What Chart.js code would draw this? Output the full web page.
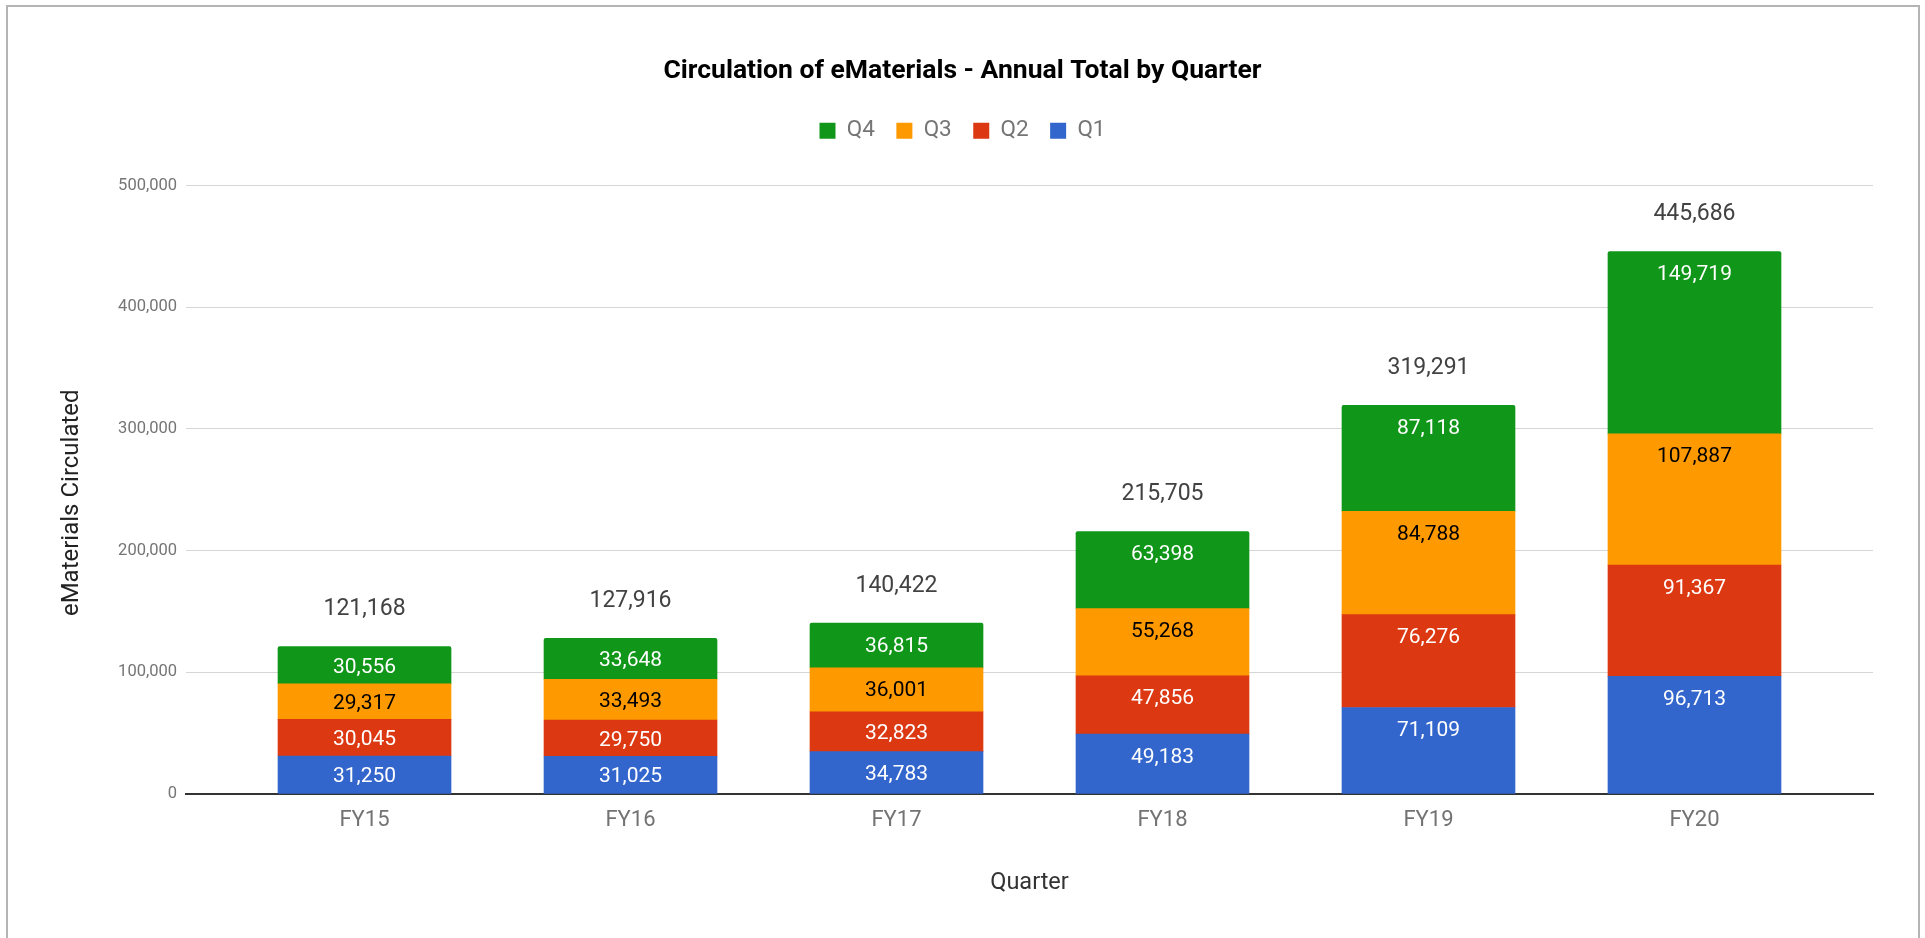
<!DOCTYPE html>
<html>
<head>
<meta charset="utf-8">
<script src="https://cdn.jsdelivr.net/npm/chart.js@4"></script>
<style>
  html, body { margin: 0; padding: 0; background: #ffffff; }
  #wrap { position: relative; width: 1925px; height: 938px; overflow: hidden; }
  #frame { position: absolute; left: 6px; top: 5px; width: 1914px; height: 960px;
           border: 2px solid #b4b4b4; box-sizing: border-box; pointer-events: none; }
  canvas { display: block; }
</style>
</head>
<body>
<div id="wrap">
  <canvas id="chart" width="1925" height="938"></canvas>
  <div id="frame"></div>
</div>
<script>
// ---- data ----
const categories = ['FY15', 'FY16', 'FY17', 'FY18', 'FY19', 'FY20'];
const q1 = [31250, 31025, 34783, 49183, 71109, 96713];
const q2 = [30045, 29750, 32823, 47856, 76276, 91367];
const q3 = [29317, 33493, 36001, 55268, 84788, 107887];
const q4 = [30556, 33648, 36815, 63398, 87118, 149719];
const totals = [121168, 127916, 140422, 215705, 319291, 445686];
const yTickValues = [0, 100000, 200000, 300000, 400000, 500000];
const seriesNames = ['Q1', 'Q2', 'Q3', 'Q4'];
const seriesColors = ['#3366cc', '#dc3912', '#ff9900', '#109618'];
const labelColors = ['#ffffff', '#ffffff', '#000000', '#ffffff'];

const fmt = v => Number(v).toLocaleString('en-US');
Chart.defaults.font.family = 'Roboto, "Noto Sans", sans-serif';

const seriesValues = [q1, q2, q3, q4];
const datasets = seriesValues.map((vals, s) => ({
  label: seriesNames[s],
  data: vals.map((v, i) => ({ x: i, y: v })),
  backgroundColor: seriesColors[s],
  borderWidth: 0,
  borderRadius: s === 3 ? 2 : 0,
  barThickness: 173,
  labelColor: labelColors[s]
}));

// fixed legend block height (leaves the gap between legend and plot area)
const legendGap = {
  id: 'legendGap',
  beforeLayout(chart) {
    const lg = chart.legend;
    if (lg && !lg._gapPatched) {
      const f = lg.fit;
      lg.fit = function () { f.call(this); this.height = 87.5; };
      lg._gapPatched = true;
    }
  }
};

// value labels inside segments and totals above stacks, plus y-axis title
const CAP = 0.3555; // half cap-height of Roboto, in em
const labelsPlugin = {
  id: 'valueLabels',
  afterDatasetsDraw(chart) {
    const ctx = chart.ctx;
    ctx.save();
    ctx.textAlign = 'center';
    ctx.textBaseline = 'alphabetic';
    chart.data.datasets.forEach((ds, di) => {
      const meta = chart.getDatasetMeta(di);
      const fs = 21;
      ctx.font = fs + 'px Roboto';
      ctx.fillStyle = ds.labelColor;
      meta.data.forEach((bar, i) => {
        const p = bar.getProps(['x', 'y', 'base'], true);
        const top = Math.min(p.y, p.base);
        const h = Math.abs(p.base - p.y);
        ctx.fillText(fmt(ds.data[i].y), p.x, top + Math.min(h / 2, 21) + CAP * fs);
      });
    });
    const topMeta = chart.getDatasetMeta(chart.data.datasets.length - 1);
    const tfs = 23;
    ctx.font = tfs + 'px Roboto';
    ctx.fillStyle = '#424242';
    topMeta.data.forEach((bar, i) => {
      const p = bar.getProps(['x', 'y'], true);
      ctx.fillText(fmt(totals[i]), p.x, p.y - 39.4 + CAP * tfs);
    });
    // y axis title
    const area = chart.chartArea;
    ctx.translate(77.7, (area.top + area.bottom) / 2 + 13);
    ctx.rotate(-Math.PI / 2);
    ctx.font = '24px Roboto';
    ctx.fillStyle = '#222222';
    ctx.fillText('eMaterials Circulated', 0, 0);
    ctx.restore();
  }
};

new Chart(document.getElementById('chart'), {
  type: 'bar',
  data: { datasets },
  plugins: [legendGap, labelsPlugin],
  options: {
    responsive: false,
    devicePixelRatio: 1,
    animation: false,
    layout: { padding: { left: 52, right: 52, top: 0, bottom: 0 } },
    plugins: {
      title: {
        display: true,
        text: 'Circulation of eMaterials - Annual Total by Quarter',
        color: '#000000',
        font: { size: 26.5, weight: 'bold' },
        padding: { top: 55.8, bottom: 10.4 }
      },
      legend: {
        display: true,
        position: 'top',
        labels: {
          boxWidth: 16,
          boxHeight: 16,
          padding: 21.5,
          color: '#757575',
          font: { size: 22.5 },
          sort: (a, b) => b.datasetIndex - a.datasetIndex
        }
      },
      tooltip: { enabled: false }
    },
    scales: {
      x: {
        type: 'linear',
        stacked: true,
        min: -0.6711,
        max: 5.6711,
        offset: false,
        grid: { display: false, drawTicks: false },
        border: { display: true, color: '#333333', width: 2 },
        ticks: {
          stepSize: 1,
          includeBounds: false,
          autoSkip: false,
          maxRotation: 0,
          padding: 12.8,
          color: '#737373',
          font: { size: 22 },
          callback: v => (Number.isInteger(v) && categories[v] !== undefined) ? categories[v] : ''
        },
        title: {
          display: true,
          text: 'Quarter',
          color: '#333333',
          font: { size: 23.5 },
          padding: { top: 0, bottom: 40.6 }
        },
        afterFit: s => { s.height = 144; }
      },
      y: {
        stacked: true,
        min: yTickValues[0],
        max: yTickValues[yTickValues.length - 1],
        grid: { color: '#d6d6d6', lineWidth: 1, drawTicks: false },
        border: { display: false },
        ticks: {
          stepSize: yTickValues[1] - yTickValues[0],
          padding: 9,
          color: '#757575',
          font: { size: 16.5 },
          callback: v => fmt(v)
        },
        afterFit: s => { s.width = 134; }
      }
    }
  }
});
</script>
</body>
</html>
